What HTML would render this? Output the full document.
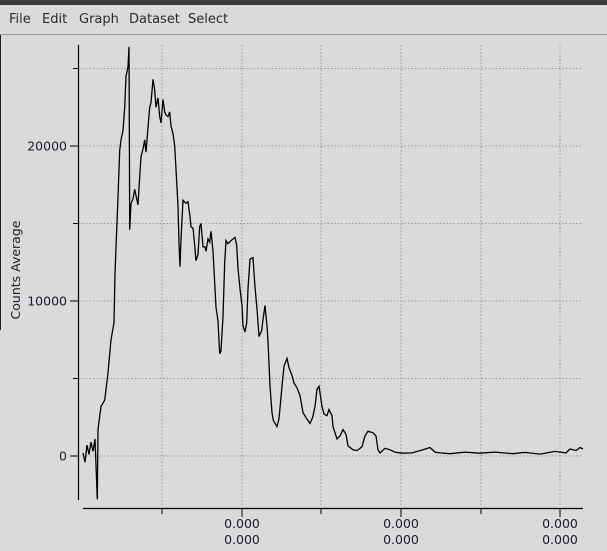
<!DOCTYPE html>
<html><head><meta charset="utf-8"><style>
body{margin:0;width:607px;height:551px;overflow:hidden;background:#dadada;font-family:"DejaVu Sans","Liberation Sans",sans-serif;}
#top{position:absolute;left:0;top:0;width:607px;height:5px;background:#3d3b37}
#menu{position:absolute;left:0;top:5px;width:607px;height:29px;border-bottom:1px solid #9a9a9a;font-size:13px;color:#2a2a2a}
#menu span{position:absolute;top:7px}
#lstrip{position:absolute;left:0;top:35px;width:1px;height:295px;background:#2c1a26}
svg{position:absolute;left:0;top:0}
</style></head><body>
<div id="top"></div>
<div id="menu">
<span style="left:9px">File</span>
<span style="left:42px">Edit</span>
<span style="left:79px">Graph</span>
<span style="left:129px">Dataset</span>
<span style="left:188px">Select</span>
</div>
<div id="lstrip"></div>
<svg id="chart" width="607" height="551"></svg>
<script>
const xs=[
0,2,4,6,8,10,12,14.3,14.6,15,
18,21.7,25,28,31,32,33.7,35,36.7,38,
40,41.7,43,45,46,46.4,46.7,48,50,51.7,
53,55,56.7,58,60,61.7,63,65,66.7,68,
70,71.7,73,75,76.7,78,80,81.7,83,85,
86.7,88,90,91.7,93,95,96,97,98,100,
103,105,106.7,108,110,111.7,113,115,116.7,118,
120,122,123,125,126.7,128,130,131,133,135,
136.7,138,140,141.7,143,145,
148,152,153.7,155,157,159,160,162,163.7,165,
167,170,172,174,176,178.7,180,182,184,185,
187,189,190.3,194,196,199,201,204,206,209,
211,214,217,220,223.7,227,229.7,232,234,236,
239,241,244,246,249,250,254,257,260,263,
265,270,274,279,282,285,290,293,295,297,
302,307,
312,319,329,340,347,352,357,367,382,396,
412,430,442,457,472,483,487,493,497,500];
const ys=[
200,-400,700,100,900,300,1100,-2800,-900,1700,
3200,3600,5350,7500,8600,11800,14600,16700,19700,20400,
21000,22500,24500,25100,26400,20000,14600,16300,16600,17200,
16800,16200,18000,19300,19800,20400,19600,21200,22500,22800,
24300,23600,22500,23100,21900,21500,23000,22200,22000,21900,
22200,21300,20800,20000,18500,16100,13700,12200,14000,16500,
16300,16400,15600,14800,14700,13600,12600,13000,14800,15000,
13500,13500,13200,14000,13800,14500,13200,12000,9600,8700,
6600,6800,9000,12500,13900,13700,
13900,14100,13600,12100,10800,9700,8400,8000,8600,10800,
12700,12800,10900,9500,7700,8100,8800,9700,8400,7400,
4500,2800,2300,1900,2400,4500,5800,6300,5700,5200,
4700,4400,3900,2800,2400,2100,2500,3200,4300,4500,
3200,2700,2600,3000,2600,1900,1100,1300,1700,1400,
650,400,350,600,1300,1600,1500,1300,400,200,
500,400,
250,180,200,400,550,250,200,150,250,180,
250,150,230,120,300,200,450,350,550,450];
const yTicks=[0,10000,20000];
const yTickLabels=["0","10000","20000"];
const yMinor=[5000,15000,25000];
const xMajor=[159,318,477];
const xMinor=[79,238,398];
const xTickLabels=["0.000","0.000","0.000"];
const X=v=>83+v, Y=v=>456-v*0.0155;
const svg=document.getElementById('chart'),NS='http://www.w3.org/2000/svg';
function mk(t,a){const e=document.createElementNS(NS,t);for(const k in a)e.setAttribute(k,a[k]);svg.appendChild(e);return e;}
[...yTicks,...yMinor].forEach(v=>{const g=mk('line',{x1:79,x2:583,y1:Y(v),y2:Y(v),stroke:'#9a9a9a','stroke-dasharray':'1.5,2'});

});
[...xMajor,...xMinor].forEach(v=>{const g=mk('line',{x1:X(v),x2:X(v),y1:45,y2:505,stroke:'#9a9a9a','stroke-dasharray':'1.5,2'});

});
const ya=mk('line',{x1:78.5,x2:78.5,y1:45,y2:500,stroke:'#000','stroke-width':1.2});


const xa=mk('line',{x1:83,x2:583,y1:508.5,y2:508.5,stroke:'#000','stroke-width':1.2});


yTicks.forEach((v,i)=>{const t=mk('line',{x1:70,x2:78,y1:Y(v),y2:Y(v),stroke:'#000'});


const l=mk('text',{x:67,y:Y(v)+4.5,'text-anchor':'end','font-size':12.5,fill:'#1c1c2c'});l.textContent=yTickLabels[i];

});
yMinor.forEach(v=>{const t=mk('line',{x1:73,x2:78,y1:Y(v),y2:Y(v),stroke:'#000'});

});
xMajor.forEach((v,i)=>{const t=mk('line',{x1:X(v),x2:X(v),y1:508,y2:517,stroke:'#000'});


[528,544].forEach(yy=>{const l=mk('text',{x:X(v),y:yy,'text-anchor':'middle','font-size':12.5,fill:'#1c1c2c'});l.textContent=xTickLabels[i];

});});
xMinor.forEach(v=>{const t=mk('line',{x1:X(v),x2:X(v),y1:508,y2:514,stroke:'#000'});

});
const ttl=mk('text',{x:0,y:0,'text-anchor':'middle','font-size':12.5,fill:'#1c1c2c',transform:'translate(20,270) rotate(-90)'});ttl.textContent='Counts Average';


const p=mk('polyline',{points:xs.map((x,i)=>X(x).toFixed(1)+','+Y(ys[i]).toFixed(1)).join(' '),fill:'none',stroke:'#000','stroke-width':1.3,'stroke-linejoin':'miter'});


</script>
</body></html>
